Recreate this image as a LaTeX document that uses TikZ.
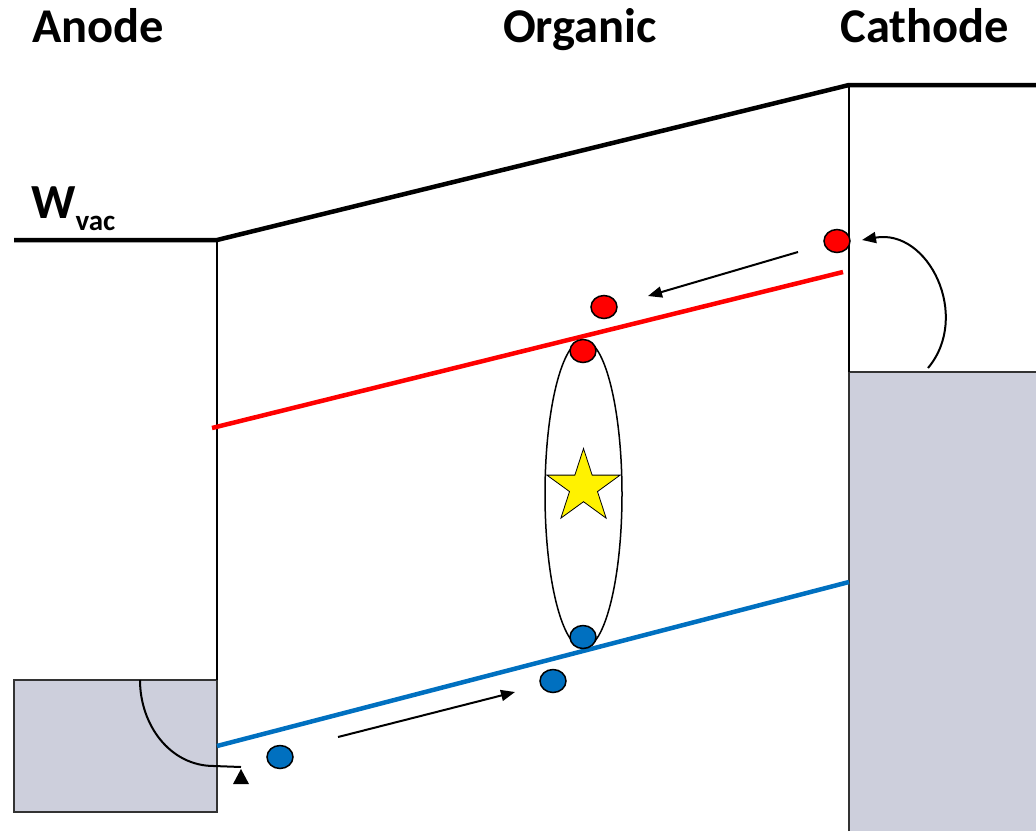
\documentclass[tikz,border=0pt]{standalone}
\usepackage{fontspec}
\setmainfont{Carlito}
\usepackage{tikz}
\usetikzlibrary{arrows.meta, shapes.geometric}
\definecolor{metalgray}{HTML}{CDCFDC}
\definecolor{holeblue}{HTML}{0070C0}

\begin{document}
\begin{tikzpicture}[x=1pt, y=-1pt,
    title/.style={font=\bfseries\fontsize{48.5}{52}\selectfont, inner sep=0pt, anchor=base},
    metal/.style={fill=metalgray, draw=black!80, line width=2pt},
    level/.style={line width=4.5pt},
    electron/.style={ellipse, draw, line width=1.5pt, fill=red, minimum width=26pt, minimum height=23pt, inner sep=0pt},
    hole/.style={electron, fill=holeblue},
    arrow/.style={-{Triangle[length=14pt, width=11pt]}, line width=2pt}
]
\useasboundingbox (0,0) rectangle (1036,831);

% titles
\node[title] (anode) at (98,42) {Anode};
\node[title] (organic) at (580,42) {Organic};
\node[title] (cathode) at (925,42) {Cathode};
\node[inner sep=0pt, anchor=base west, font=\bfseries\fontsize{49}{52}\selectfont] (wvac) at (31,218) {W\raisebox{-12pt}{\fontsize{29}{32}\selectfont vac}};

% electrodes
\fill[metalgray] (849,372) rectangle (1036,831);
\draw[line width=2pt, black!80] (849,831) -- (849,372) -- (1036,372);
\draw[metal] (14,680) rectangle (217,812);

% vacuum level and interfaces
\draw[level] (14,240) -- (217,240) -- (849,85) -- (1036,85);
\draw[line width=1.3pt] (217,240) -- (217,680);
\draw[line width=1.3pt] (849,85) -- (849,372);

% LUMO / HOMO
\draw[level, red] (212,428) -- (843,272);
\draw[level, holeblue] (217,746) -- (849,582);

% exciton
\draw[line width=1.5pt] (583.5,494) ellipse [x radius=38.5pt, y radius=154pt];
\node[star, star points=5, star point ratio=2.618, minimum size=77pt, inner sep=0pt,
      fill=yellow, draw, line width=0.8pt] (exciton) at (583.5,487) {};

% carriers
\node[electron] (e1) at (837,241) {};
\node[electron] (e2) at (604,307) {};
\node[electron] (e3) at (583,351) {};
\node[hole] (h1) at (583,637) {};
\node[hole] (h2) at (553,681) {};
\node[hole] (h3) at (280,757) {};

% transport
\coordinate (eFrom) at (798,252);
\coordinate (eTo) at (648,296);
\draw[arrow] (eFrom) -- (eTo);
\coordinate (hFrom) at (338,737);
\coordinate (hTo) at (515,692);
\draw[arrow] (hFrom) -- (hTo);

% injection
\coordinate (cOut) at (928,368);
\coordinate (cIn) at (862,240);
\draw[arrow] (cOut) to[out=50, in=10, looseness=1.2] (cIn);
\coordinate (aOut) at (140,680);
\coordinate (aIn) at (241,767);
\draw[line width=2pt] (aOut) to[out=-90, in=180] (214,766) -- (aIn);
\fill (241,769) -- (249,784) -- (233,784) -- cycle;

\end{tikzpicture}
\end{document}
